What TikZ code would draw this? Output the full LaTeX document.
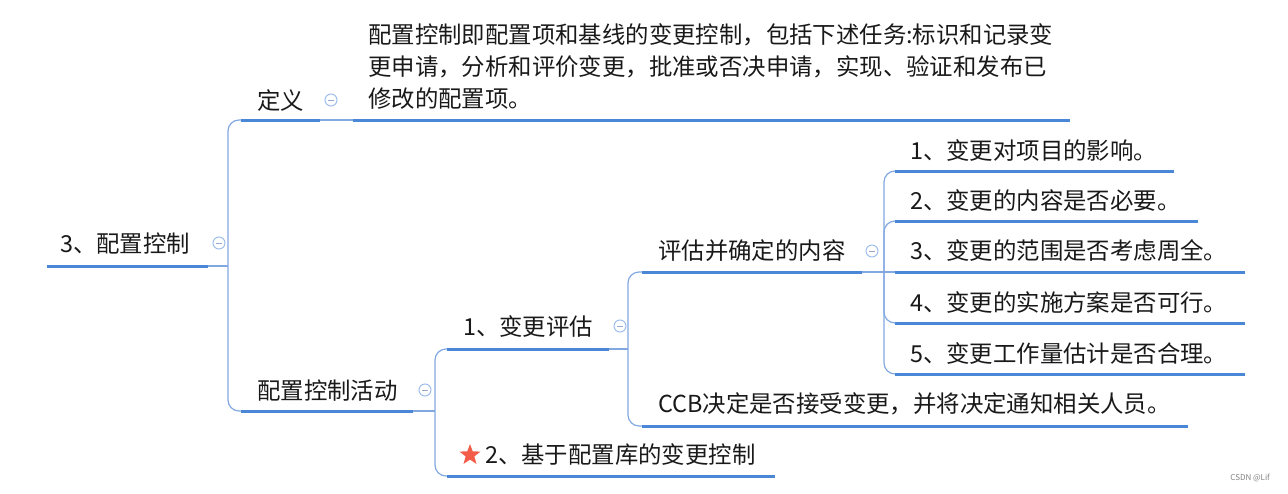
\documentclass[tikz,border=0pt]{standalone}
\usepackage{fontspec}
\usepackage{xcolor}
\usepackage{tikz}
\usetikzlibrary{positioning, shapes.geometric}
\setmainfont{Noto Sans CJK SC}
\definecolor{lineblue}{RGB}{75,135,215}
\definecolor{thinblue}{RGB}{130,168,226}
\definecolor{foldblue}{RGB}{160,190,235}
\definecolor{textdark}{RGB}{25,25,25}
\definecolor{starred}{RGB}{242,92,72}

\begin{document}
\begin{tikzpicture}[x=1pt, y=-1pt,
    % Node styles
    topic/.style={anchor=base west, inner sep=0pt, text=textdark, font=\fontsize{23.4}{32}\selectfont},
    note/.style={anchor=west, inner sep=0pt, align=left, text=textdark, font=\fontsize{23.4}{32}\selectfont},
    fold/.style={circle, draw=foldblue, fill=white, line width=1pt, minimum size=12pt, inner sep=0pt,
        path picture={\draw[foldblue!70!gray, line width=1pt] ([xshift=-3pt]path picture bounding box.center) -- ([xshift=3pt]path picture bounding box.center);}},
    starmark/.style={star, star points=5, star point ratio=2.4, fill=starred, minimum size=22pt, inner sep=0pt},
    % Edge styles
    topicline/.style={draw=lineblue, line width=3pt},
    conn/.style={draw=thinblue, line width=1.2pt, rounded corners=11pt}
]
\useasboundingbox (0,0) rectangle (1288,493);

% Level 0 - Root
\node[topic] (root) at (60,252) {3、配置控制};
\node[fold] (rootF) at (219,243) {};
\coordinate (rootL) at (47,266);
\coordinate (rootR) at (208,266);
\coordinate (rootB) at (228,266);

% Level 1 - Definition
\node[topic] (def) at (257,109) {定义};
\node[fold] (defF) at (331,100) {};
\coordinate (defL) at (241,120);
\coordinate (defR) at (320,120);

\node[note] (note) at (368,67) {配置控制即配置项和基线的变更控制，包括下述任务:标识和记录变\\更申请，分析和评价变更，批准或否决申请，实现、验证和发布已\\修改的配置项。};
\coordinate (noteL) at (353,120);
\coordinate (noteR) at (1070,120);

% Level 1 - Activities
\node[topic] (act) at (257,399) {配置控制活动};
\node[fold] (actF) at (425,390) {};
\coordinate (actL) at (241,411);
\coordinate (actR) at (413,411);
\coordinate (actB) at (435,411);

% Level 2 - From activities
\node[topic] (eval) at (463,335) {1、变更评估};
\node[fold] (evalF) at (620,326) {};
\coordinate (evalL) at (447,349);
\coordinate (evalR) at (609,349);
\coordinate (evalB) at (628,349);

\node[starmark] (star) at (470,455) {};
\node[topic] (lib) at (485,463) {2、基于配置库的变更控制};
\coordinate (libL) at (447,476);
\coordinate (libR) at (775,476);

% Level 3 - From evaluation
\node[topic] (cont) at (658,259) {评估并确定的内容};
\node[fold] (contF) at (872,251) {};
\coordinate (contL) at (642,272);
\coordinate (contR) at (862,272);
\coordinate (contB) at (884,272);

\node[topic] (ccb) at (658,412) {CCB决定是否接受变更，并将决定通知相关人员。};
\coordinate (ccbL) at (642,426);
\coordinate (ccbR) at (1188,426);

% Level 4 - From contents
\node[topic] (i1) at (910,159) {1、变更对项目的影响。};
\coordinate (i1L) at (895,171);
\coordinate (i1R) at (1174,171);

\node[topic] (i2) at (910,209) {2、变更的内容是否必要。};
\coordinate (i2L) at (895,221);
\coordinate (i2R) at (1198,221);

\node[topic] (i3) at (910,259) {3、变更的范围是否考虑周全。};
\coordinate (i3L) at (895,272);
\coordinate (i3R) at (1245,272);

\node[topic] (i4) at (910,311) {4、变更的实施方案是否可行。};
\coordinate (i4L) at (895,323);
\coordinate (i4R) at (1245,323);

\node[topic] (i5) at (910,362) {5、变更工作量估计是否合理。};
\coordinate (i5L) at (895,374);
\coordinate (i5R) at (1245,374);

% Watermark
\node[anchor=east, inner sep=0pt, text=gray, font=\fontsize{8}{8}\selectfont] (wm) at (1270,478) {CSDN @Lif};

% Draw all edges
\draw[conn] (rootR) -- (rootB);
\draw[conn] (rootB) |- (defL);
\draw[conn] (rootB) |- (actL);

\draw[conn] (defR) -- (noteL);

\draw[conn] (actR) -- (actB);
\draw[conn] (actB) |- (evalL);
\draw[conn] (actB) |- (libL);

\draw[conn] (evalR) -- (evalB);
\draw[conn] (evalB) |- (contL);
\draw[conn] (evalB) |- (ccbL);

\draw[conn] (contR) -- (i3L);
\draw[conn] (contB) |- (i1L);
\draw[conn] (contB) |- (i2L);
\draw[conn] (contB) |- (i4L);
\draw[conn] (contB) |- (i5L);

% Underlines
\draw[topicline] (rootL) -- (rootR);
\draw[topicline] (defL) -- (defR);
\draw[topicline] (noteL) -- (noteR);
\draw[topicline] (actL) -- (actR);
\draw[topicline] (evalL) -- (evalR);
\draw[topicline] (libL) -- (libR);
\draw[topicline] (contL) -- (contR);
\draw[topicline] (ccbL) -- (ccbR);
\draw[topicline] (i1L) -- (i1R);
\draw[topicline] (i2L) -- (i2R);
\draw[topicline] (i3L) -- (i3R);
\draw[topicline] (i4L) -- (i4R);
\draw[topicline] (i5L) -- (i5R);

\end{tikzpicture}
\end{document}
